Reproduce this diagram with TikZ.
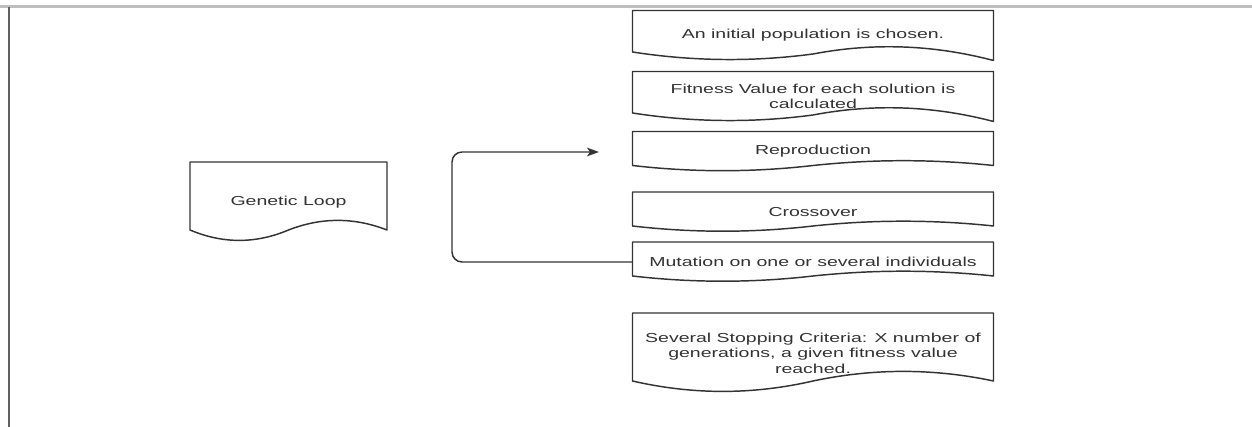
\documentclass[tikz,border=0pt]{standalone}
\usepackage{fontspec}
\setmainfont{Liberation Sans}
\newfontfamily\drawfont[FakeStretch=1.5]{Liberation Sans}
\usetikzlibrary{arrows.meta}
\definecolor{inkc}{HTML}{333333}
\definecolor{framegray}{HTML}{BDBDBD}
\definecolor{framedark}{HTML}{606060}
\tikzset{
  docnode/.style={inner sep=0pt, outer sep=0pt, align=center, text=inkc,
    font=\drawfont\fontsize{9.75pt}{11.6pt}\selectfont},
  docline/.style={draw=inkc, line width=1.1pt, line join=round},
  conn/.style={draw=inkc, line width=1.1pt, rounded corners=7.5pt,
    -{Stealth[length=9pt,width=6.5pt,inset=2.2pt]}},
}
% name, x(left), y(top), w, h, left corner, mid, right corner (fractions of h), text
% pixel units, y downward
\newcommand\docbox[9]{%
  \pgfmathsetmacro\dbCh{(0.73-0.25*#8-0.25*#7)/0.5}%
  \pgfmathsetmacro\dbCl{(0.98-0.25*#7-0.25*#6)/0.5}%
  \pgfmathsetmacro\dbAy{#3+(#8+2/3*(\dbCh-#8))*#5}%
  \pgfmathsetmacro\dbBy{#3+(#7+2/3*(\dbCh-#7))*#5}%
  \pgfmathsetmacro\dbCy{#3+(#7+2/3*(\dbCl-#7))*#5}%
  \pgfmathsetmacro\dbDy{#3+(#6+2/3*(\dbCl-#6))*#5}%
  \node[docnode, minimum width=#4*0.75pt, minimum height=#5*0.75pt]
    (#1) at ({#2+#4/2},{#3+#5/2}) {#9};
  \draw[docline] (#2,#3) -- ({#2+#4},#3) -- ({#2+#4},{#3+#8*#5})
    .. controls ({#2+0.8333*#4},\dbAy) and ({#2+0.6667*#4},\dbBy) .. ({#2+0.5*#4},{#3+#7*#5})
    .. controls ({#2+0.3333*#4},\dbCy) and ({#2+0.1667*#4},\dbDy) .. (#2,{#3+#6*#5})
    -- cycle;
}
\begin{document}
\begin{tikzpicture}[x=0.75pt, y=-0.75pt]
\useasboundingbox[fill=white] (0,0) rectangle (1252,427);
% frame
\draw[framegray, line width=1.6pt] (0,6.5) -- (1252,6.5);
\draw[framedark, line width=1.4pt] (9,7.5) -- (9,427);
% boxes
\docbox{loop}{190}{162}{197}{80}{0.85}{0.85}{0.85}{Genetic Loop}
\docbox{init}{632.5}{10.5}{361}{50}{0.83}{0.87}{1.0}{An initial population is chosen.}
\docbox{fit}{632.5}{71.5}{361}{50}{0.83}{0.87}{1.0}{Fitness Value for each solution is\\calculated}
\docbox{repro}{632.5}{131.5}{361}{40}{0.85}{0.85}{0.85}{Reproduction}
\docbox{cross}{632.5}{192}{361}{40}{0.85}{0.85}{0.85}{Crossover}
\docbox{mut}{632.5}{242}{361}{40}{0.85}{0.85}{0.85}{Mutation on one or several individuals}
\docbox{stop}{632.5}{313}{361}{80}{0.85}{0.85}{0.85}{Several Stopping Criteria: X number of\\generations, a given fitness value\\reached.}
% loop connector
\coordinate (loopTop) at (452,152);
\coordinate (loopEnd) at (599,152);
\draw[conn] (mut.west) -| (loopTop) -- (loopEnd);
\end{tikzpicture}
\end{document}
